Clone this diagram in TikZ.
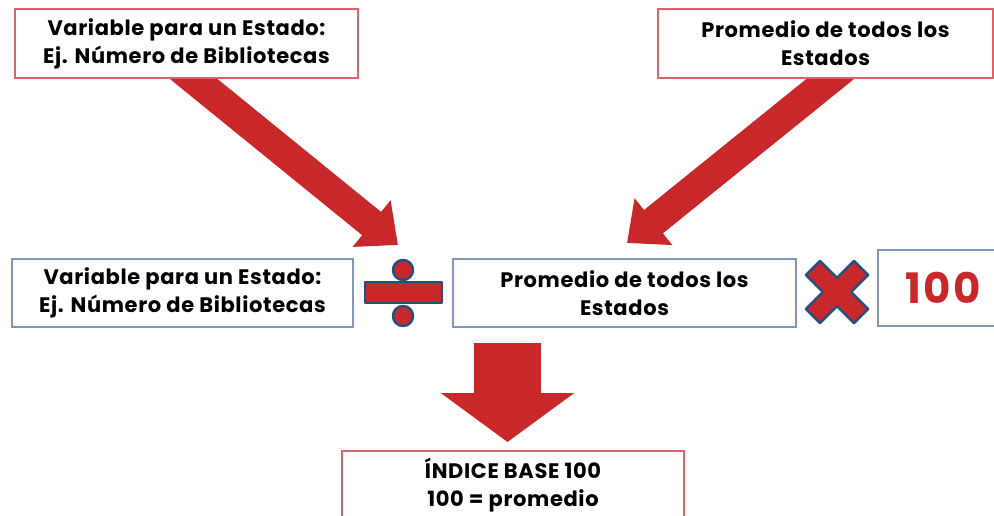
\documentclass[tikz,border=0pt]{standalone}
\usepackage{fontspec}
\setmainfont{Poppins}[LetterSpace=3]
\usetikzlibrary{arrows.meta,backgrounds,calc}
\definecolor{rojo}{HTML}{C8282A}
\definecolor{azul}{HTML}{24507F}
\definecolor{gris}{HTML}{7F97B8}
\definecolor{rosa}{HTML}{D9646A}
\begin{document}
\begin{tikzpicture}[x=1pt,y=-1pt,
  caja/.style={draw=#1,fill=white,line width=1.3pt,align=center,inner sep=0pt,
    font=\bfseries\fontsize{21}{28}\selectfont},
  flecha/.style={rojo,line width=30pt,-{Triangle[length=34pt,width=58pt]}},
  signo/.style={fill=rojo,draw=azul,line width=2.5pt,line join=round}]
  \clip (0,0) rectangle (994,515);
  \node[caja=rosa,minimum width=343pt,minimum height=69pt] (varA) at (186.5,43.5)
    {Variable para un Estado:\\Ej. Número de Bibliotecas};
  \node[caja=rosa,minimum width=335pt,minimum height=69pt] (promA) at (825.5,43.5)
    {Promedio de todos los\\Estados};
  \node[caja=gris,minimum width=341pt,minimum height=68pt] (varB) at (182.5,293)
    {Variable para un Estado:\\Ej. Número de Bibliotecas};
  \node[caja=gris,minimum width=343pt,minimum height=68pt] (promB) at (624.5,293)
    {Promedio de todos los\\Estados};
  \node[caja=gris,minimum width=130pt,minimum height=76pt,
    font=\bfseries\fontsize{42}{44}\selectfont\addfontfeatures{LetterSpace=6},text=rojo]
    (cien) at (943,288) {100};
  \node[caja=rosa,minimum width=342pt,minimum height=68pt] (indice) at (513,485)
    {ÍNDICE BASE 100\\100 = promedio};
  \coordinate (puntaA) at (398,245);
  \coordinate (puntaB) at (627,243);
  \coordinate (baseC) at (507.5,343);
  \coordinate (puntaC) at (507.5,442);
  \begin{scope}[on background layer]
    \draw[flecha] ($(varA.south)+(-8,-12)$) -- (puntaA);
    \draw[flecha] ($(promA.south)+(20,-12)$) -- (puntaB);
  \end{scope}
  \draw[flecha,line width=67pt,-{Triangle[length=49pt,width=131pt]}] (baseC) -- (puntaC);
  \draw[signo] (365,282) rectangle (442,303);
  \draw[signo] (403,270) circle (10pt);
  \draw[signo] (403,316) circle (10pt);
  \draw[signo,shift={(837,292)},rotate=45] (34,-10) -- (34,10) -- (10,10) -- (10,34) -- (-10,34)
    -- (-10,10) -- (-34,10) -- (-34,-10) -- (-10,-10) -- (-10,-34) -- (10,-34) -- (10,-10) -- cycle;
\end{tikzpicture}
\end{document}
